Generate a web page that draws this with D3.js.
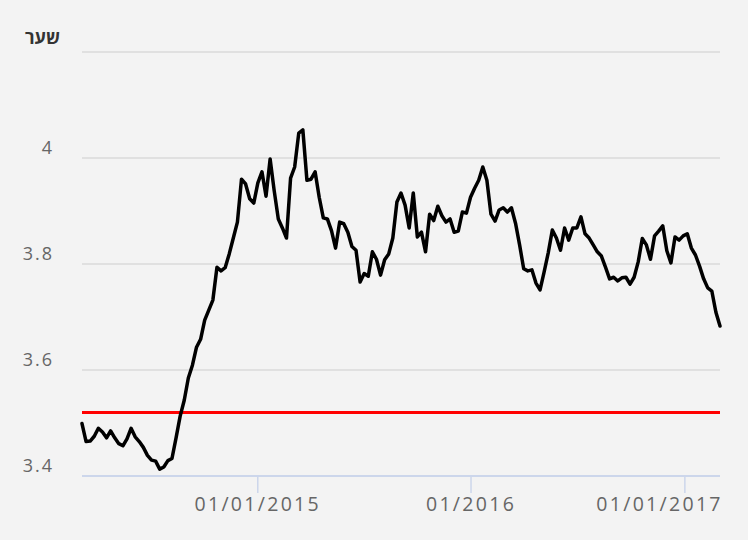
<!DOCTYPE html>
<html><head><meta charset="utf-8">
<script src="https://cdn.jsdelivr.net/npm/d3@7/dist/d3.min.js"></script>
<style>html,body{margin:0;padding:0;background:#f3f3f3} svg{display:block}</style>
</head><body><svg id="c" width="748" height="540"></svg>
<script>
const dates = [
"2014-03-07","2014-03-14","2014-03-21","2014-03-28","2014-04-04","2014-04-11","2014-04-18","2014-04-25",
"2014-05-02","2014-05-09","2014-05-16","2014-05-23","2014-05-30","2014-06-06","2014-06-13","2014-06-20","2014-06-27",
"2014-07-04","2014-07-11","2014-07-18","2014-07-25","2014-08-01","2014-08-08","2014-08-15","2014-08-22","2014-08-29",
"2014-09-05","2014-09-12","2014-09-19","2014-09-26","2014-10-03","2014-10-10","2014-10-17","2014-10-24","2014-10-31",
"2014-11-07","2014-11-14","2014-11-21","2014-11-28","2014-12-05","2014-12-12","2014-12-19","2014-12-26",
"2015-01-02","2015-01-09","2015-01-16","2015-01-23","2015-01-30","2015-02-06","2015-02-13","2015-02-20","2015-02-27",
"2015-03-06","2015-03-13","2015-03-20","2015-03-27","2015-04-03","2015-04-10","2015-04-17","2015-04-24",
"2015-05-01","2015-05-08","2015-05-15","2015-05-22","2015-05-29","2015-06-05","2015-06-12","2015-06-19","2015-06-26",
"2015-07-03","2015-07-10","2015-07-17","2015-07-24","2015-07-31","2015-08-07","2015-08-14","2015-08-21","2015-08-28",
"2015-09-04","2015-09-11","2015-09-18","2015-09-25","2015-10-02","2015-10-09","2015-10-16","2015-10-23","2015-10-30",
"2015-11-06","2015-11-13","2015-11-20","2015-11-27","2015-12-04","2015-12-11","2015-12-18","2015-12-25",
"2016-01-01","2016-01-08","2016-01-15","2016-01-22","2016-01-29","2016-02-05","2016-02-12","2016-02-19","2016-02-26",
"2016-03-04","2016-03-11","2016-03-18","2016-03-25","2016-04-01","2016-04-08","2016-04-15","2016-04-22","2016-04-29",
"2016-05-06","2016-05-13","2016-05-20","2016-05-27","2016-06-03","2016-06-10","2016-06-17","2016-06-24",
"2016-07-01","2016-07-08","2016-07-15","2016-07-22","2016-07-29","2016-08-05","2016-08-12","2016-08-19","2016-08-26",
"2016-09-02","2016-09-09","2016-09-16","2016-09-23","2016-09-30","2016-10-07","2016-10-14","2016-10-21","2016-10-28",
"2016-11-04","2016-11-11","2016-11-18","2016-11-25","2016-12-02","2016-12-09","2016-12-16","2016-12-23","2016-12-30",
"2017-01-06","2017-01-13","2017-01-20","2017-01-27","2017-02-03","2017-02-10","2017-02-17","2017-02-24","2017-03-03"
];
const rates = [
3.499,3.465,3.466,3.475,3.490,3.483,3.472,3.485,
3.472,3.461,3.457,3.470,3.490,3.474,3.465,3.454,3.439,
3.430,3.428,3.413,3.417,3.429,3.433,3.472,3.513,3.543,
3.585,3.609,3.643,3.658,3.694,3.713,3.732,3.794,3.787,
3.793,3.819,3.849,3.879,3.960,3.951,3.923,3.915,
3.953,3.974,3.928,3.998,3.938,3.885,3.868,3.849,3.962,
3.983,4.047,4.053,3.958,3.960,3.974,3.926,3.887,
3.885,3.863,3.830,3.879,3.876,3.860,3.833,3.826,3.766,
3.782,3.777,3.823,3.809,3.779,3.808,3.819,3.849,3.917,
3.934,3.911,3.868,3.934,3.851,3.860,3.823,3.894,3.882,
3.909,3.891,3.879,3.885,3.860,3.862,3.898,3.896,
3.926,3.943,3.958,3.983,3.958,3.894,3.881,3.902,3.906,
3.898,3.906,3.877,3.836,3.791,3.787,3.789,3.764,3.751,
3.785,3.821,3.864,3.849,3.826,3.868,3.845,3.868,
3.868,3.889,3.857,3.849,3.836,3.823,3.815,3.794,3.772,
3.775,3.768,3.774,3.775,3.762,3.775,3.804,3.848,3.836,
3.809,3.853,3.862,3.872,3.825,3.802,3.851,3.845,3.853,
3.857,3.830,3.817,3.796,3.772,3.755,3.749,3.709,3.683
];
const yGridValues = [3.4, 3.6, 3.8, 4, 4.2];
const yLabelValues = [3.4, 3.6, 3.8, 4];
const xTickDates = ["2015-01-01", "2016-01-01", "2017-01-01"];
const xTickLabels = ["01/01/2015", "01/2016", "01/01/2017"];
const referenceRate = 3.52;
const yAxisTitle = "שער";

const parse = d3.timeParse("%Y-%m-%d");
const data = dates.map((d, i) => ({ date: parse(d), value: rates[i] }));

const svg = d3.select("#c");
const plotLeft = 82, plotRight = 720, plotTop = 52, plotBottom = 476;
const x = d3.scaleTime().domain(d3.extent(data, d => d.date)).range([plotLeft, plotRight]);
const y = d3.scaleLinear().domain([3.4, 4.2]).range([plotBottom, plotTop]);

svg.append("rect").attr("width", 748).attr("height", 540).attr("fill", "#f3f3f3");

// gridlines
svg.append("g").selectAll("line").data(yGridValues.filter(v => v !== 3.4)).join("line")
  .attr("x1", plotLeft).attr("x2", plotRight)
  .attr("y1", d => y(d)).attr("y2", d => y(d))
  .attr("stroke", "#dadada").attr("stroke-width", 1.5);

// y labels
svg.append("g").selectAll("text").data(yLabelValues).join("text")
  .attr("x", 54).attr("y", d => y(d) - 4.5)
  .attr("text-anchor", "end")
  .attr("font-family", "'Open Sans', sans-serif").attr("font-size", 18)
  .attr("letter-spacing", "2px")
  .attr("fill", "#666666")
  .text(d => String(d));

// title
svg.append("text").attr("x", 60).attr("y", 44).attr("text-anchor", "end")
  .attr("font-family", "'Open Sans', 'DejaVu Sans', sans-serif").attr("font-size", 18)
  .attr("font-weight", "bold").attr("fill", "#333333").text(yAxisTitle);

// x axis
const xAxis = d3.axisBottom(x)
  .tickValues(xTickDates.map(parse))
  .tickFormat((d, i) => xTickLabels[i])
  .tickSize(17).tickSizeOuter(0).tickPadding(4);
const gx = svg.append("g").attr("transform", `translate(0,${plotBottom})`).call(xAxis);
gx.select(".domain").attr("stroke", "#ccd6eb").attr("stroke-width", 2)
  .attr("d", `M${plotLeft},0H${plotRight}`);
gx.selectAll(".tick line").attr("stroke", "#ccd6eb").attr("stroke-width", 1.5);
gx.selectAll(".tick text")
  .attr("font-family", "'Open Sans', sans-serif").attr("font-size", 19.5)
  .attr("letter-spacing", "2.3px")
  .attr("fill", "#666666").attr("dy", null).attr("y", 35);
// keep the last label inside the plot, like the reference
gx.selectAll(".tick text").filter((d, i, n) => i === n.length - 1)
  .attr("text-anchor", "end")
  .attr("x", function(d) { return plotRight - x(d) + 2.3; });

// reference line
svg.append("line").attr("x1", plotLeft).attr("x2", plotRight)
  .attr("y1", y(referenceRate)).attr("y2", y(referenceRate))
  .attr("stroke", "#ff0000").attr("stroke-width", 3);

// series
const line = d3.line().x(d => x(d.date)).y(d => y(d.value));
svg.append("path").datum(data).attr("d", line)
  .attr("fill", "none").attr("stroke", "#000000").attr("stroke-width", 3.5)
  .attr("stroke-linejoin", "round").attr("stroke-linecap", "round");
</script>
</body></html>
